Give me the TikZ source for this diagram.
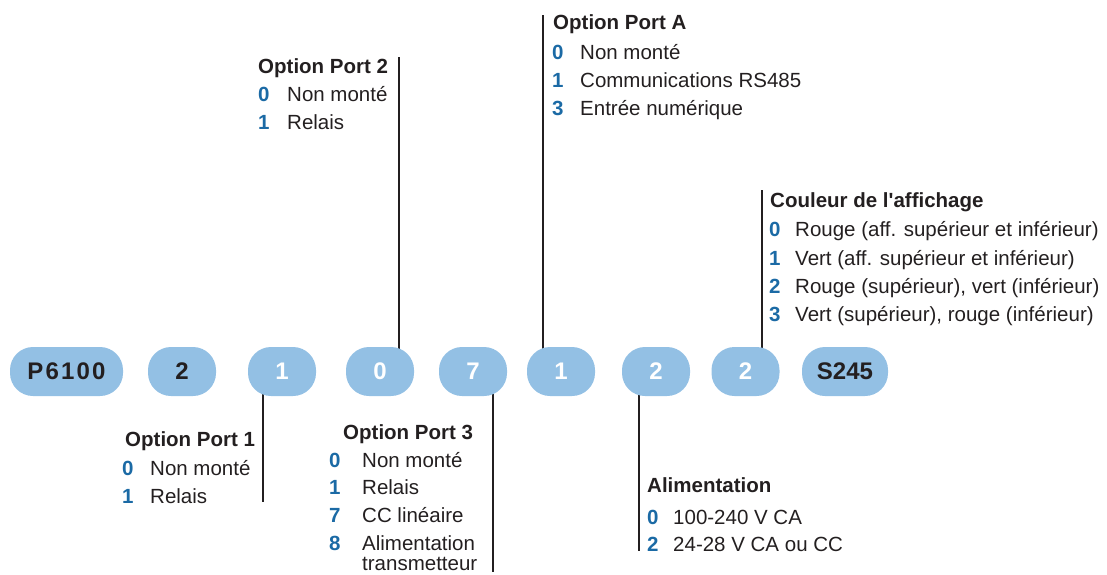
\documentclass[tikz,border=0pt]{standalone}
\usepackage{fontspec}
\setmainfont{Liberation Sans}[Ligatures=TeXOff]
\usetikzlibrary{positioning,backgrounds}
\definecolor{pillblue}{RGB}{147,192,228}
\definecolor{codeblue}{RGB}{27,106,165}
\definecolor{ink}{RGB}{35,31,32}

\begin{document}
\begin{tikzpicture}[x=1pt,y=-1pt,
    pill/.style={rectangle,rounded corners=23pt,fill=pillblue,minimum height=49pt,
      minimum width=68pt,inner sep=0pt,font=\fontsize{24}{28}\selectfont\bfseries,text=white},
    dark/.style={text=ink},
    head/.style={anchor=base west,inner sep=0pt,font=\fontsize{20.5}{24}\selectfont\bfseries,text=ink},
    num/.style={anchor=base west,inner sep=0pt,font=\fontsize{20.5}{24}\selectfont\bfseries,text=codeblue},
    item/.style={anchor=base west,inner sep=0pt,font=\fontsize{20.5}{24}\selectfont,text=ink},
    stem/.style={line width=2.8pt,draw=ink}]
  \useasboundingbox (0,0) rectangle (1107,574);

  % code pills
  \node[pill,dark,minimum width=113pt] (model) at (66.5,371.5) {\addfontfeature{LetterSpace=9}P6100};
  \node[pill,dark] (d1) at (182,371.5) {2};
  \node[pill] (d2) at (282,371.5) {1};
  \node[pill] (d3) at (380,371.5) {0};
  \node[pill] (d4) at (473,371.5) {7};
  \node[pill] (d5) at (561,371.5) {1};
  \node[pill] (d6) at (656,371.5) {2};
  \node[pill] (d7) at (745.5,371.5) {2};
  \node[pill,dark,minimum width=86pt] (suffix) at (845,371.5) {S245};

  % option port 2
  \node[head] (p2title) at (258,73) {Option Port 2};
  \node[num] (p2n0) at (258,101) {0};
  \node[item] (p2t0) at (287,101) {Non monté};
  \node[num] (p2n1) at (258,129) {1};
  \node[item] (p2t1) at (287,129) {Relais};

  % option port A
  \node[head] (patitle) at (553,29) {Option Port A};
  \node[num] (pan0) at (552,59) {0};
  \node[item] (pat0) at (580,59) {Non monté};
  \node[num] (pan1) at (552,87) {1};
  \node[item] (pat1) at (580,87) {Communications RS485};
  \node[num] (pan3) at (552,115) {3};
  \node[item] (pat3) at (580,115) {Entrée numérique};

  % couleur de l'affichage
  \node[head] (coltitle) at (770,207) {Couleur de l'affichage};
  \node[num] (coln0) at (769,236) {0};
  \node[item] (colt0) at (795,236) {Rouge (aff. supérieur et inférieur)};
  \node[num] (coln1) at (769,265) {1};
  \node[item] (colt1) at (795,265) {Vert (aff. supérieur et inférieur)};
  \node[num] (coln2) at (769,293) {2};
  \node[item] (colt2) at (795,293) {Rouge (supérieur), vert (inférieur)};
  \node[num] (coln3) at (769,321) {3};
  \node[item] (colt3) at (795,321) {Vert (supérieur), rouge (inférieur)};

  % option port 1
  \node[head] (p1title) at (125,446) {Option Port 1};
  \node[num] (p1n0) at (122,475) {0};
  \node[item] (p1t0) at (150,475) {Non monté};
  \node[num] (p1n1) at (122,503) {1};
  \node[item] (p1t1) at (150,503) {Relais};

  % option port 3
  \node[head] (p3title) at (343,439) {Option Port 3};
  \node[num] (p3n0) at (329,467) {0};
  \node[item] (p3t0) at (362,467) {Non monté};
  \node[num] (p3n1) at (329,494) {1};
  \node[item] (p3t1) at (362,494) {Relais};
  \node[num] (p3n7) at (329,522) {7};
  \node[item] (p3t7) at (362,522) {CC linéaire};
  \node[num] (p3n8) at (329,550) {8};
  \node[item] (p3t8) at (362,550) {Alimentation};
  \node[item] (p3t8b) at (362,570) {transmetteur};

  % alimentation
  \node[head] (pwtitle) at (647,492) {Alimentation};
  \node[num] (pwn0) at (647,524) {0};
  \node[item] (pwt0) at (673,524) {100-240 V CA};
  \node[num] (pwn2) at (647,551) {2};
  \node[item] (pwt2) at (673,551) {24-28 V CA ou CC};

  % stems
  \coordinate (p2top) at (399,57);
  \coordinate (patop) at (543,15);
  \coordinate (coltop) at (762,190);
  \coordinate (p1end) at (263,502);
  \coordinate (p3end) at (493,572);
  \coordinate (pwend) at (639,551);
  \begin{pgfonlayer}{background}
    \draw[stem] (p2top) -- (d3.center -| p2top);
    \draw[stem] (patop) -- (d5.center -| patop);
    \draw[stem] (coltop) -- (d7.center -| coltop);
    \draw[stem] (d2.center -| p1end) -- (p1end);
    \draw[stem] (d4.center -| p3end) -- (p3end);
    \draw[stem] (d6.center -| pwend) -- (pwend);
  \end{pgfonlayer}
\end{tikzpicture}
\end{document}
